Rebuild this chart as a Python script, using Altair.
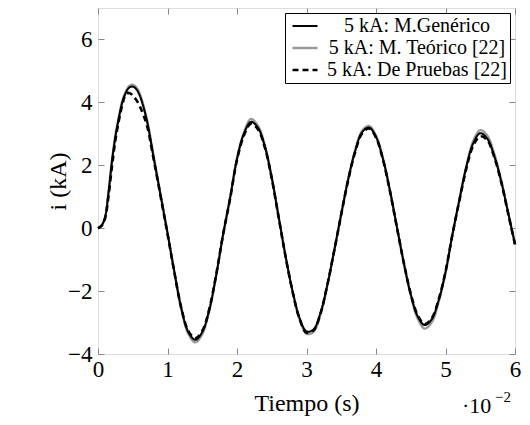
import altair as alt
import pandas as pd

# tiempo (x 10^-2 s)
t = [0, 0.05, 0.1, 0.15, 0.2, 0.25, 0.3, 0.35, 0.4, 0.45, 0.5, 0.55, 0.6,
     0.7, 0.8, 0.9, 1.0, 1.1, 1.2, 1.3, 1.4, 1.5, 1.6, 1.7, 1.8, 1.9, 2.0,
     2.1, 2.2, 2.3, 2.4, 2.5, 2.6, 2.7, 2.8, 2.9, 3.0,
     3.1, 3.2, 3.3, 3.4, 3.5, 3.6, 3.7, 3.8, 3.9, 4.0,
     4.1, 4.2, 4.3, 4.4, 4.5, 4.6, 4.7, 4.8, 4.9, 5.0,
     5.1, 5.2, 5.3, 5.4, 5.5, 5.6, 5.7, 5.8, 5.9, 6.0]

generico = [0, 0.08, 0.33, 1.1, 2.1, 2.9, 3.5, 4.0, 4.3, 4.47, 4.5, 4.42, 4.22,
            3.45, 2.25, 1.05, -0.15,
            -1.4, -2.55, -3.3, -3.55, -3.3, -2.6, -1.5, -0.2, 0.95, 2.2,
            3.0, 3.38, 3.2, 2.6, 1.6, 0.35, -0.9, -2.0, -2.85, -3.28,
            -3.22, -2.7, -1.8, -0.7, 0.45, 1.55, 2.45, 3.05, 3.2, 2.9,
            2.2, 1.2, 0.05, -1.1, -2.1, -2.8, -3.08, -2.9, -2.3, -1.4,
            -0.2, 0.9, 1.95, 2.7, 3.02, 2.85, 2.3, 1.5, 0.5, -0.5]

teorico = [0, 0.08, 0.35, 1.15, 2.15, 2.95, 3.55, 4.05, 4.35, 4.52, 4.56, 4.48, 4.28,
           3.5, 2.3, 1.08, -0.15,
           -1.42, -2.6, -3.36, -3.63, -3.37, -2.65, -1.52, -0.2, 0.97, 2.23,
           3.05, 3.47, 3.27, 2.65, 1.62, 0.35, -0.92, -2.03, -2.9, -3.36,
           -3.3, -2.76, -1.83, -0.7, 0.46, 1.57, 2.48, 3.1, 3.25, 2.95,
           2.23, 1.22, 0.05, -1.12, -2.14, -2.88, -3.19, -3.0, -2.36, -1.43,
           -0.2, 0.92, 1.98, 2.78, 3.12, 2.95, 2.38, 1.55, 0.52, -0.5]

pruebas = [0, 0.07, 0.3, 1.0, 1.95, 2.8, 3.42, 3.92, 4.25, 4.3, 4.22, 4.08, 3.88,
           3.3, 2.2, 1.02, -0.18,
           -1.42, -2.55, -3.27, -3.5, -3.27, -2.58, -1.48, -0.2, 0.93, 2.17,
           2.95, 3.32, 3.15, 2.57, 1.58, 0.33, -0.92, -2.02, -2.88, -3.32,
           -3.25, -2.72, -1.8, -0.7, 0.44, 1.53, 2.42, 3.01, 3.17, 2.88,
           2.18, 1.18, 0.03, -1.1, -2.08, -2.77, -3.05, -2.87, -2.28, -1.38,
           -0.2, 0.88, 1.9, 2.63, 2.92, 2.8, 2.27, 1.48, 0.48, -0.52]

series = ["5 kA: M.Genérico", "5 kA: M. Teórico [22]", "5 kA: De Pruebas [22]"]

rows = []
for name, vals in [(series[1], teorico), (series[0], generico), (series[2], pruebas)]:
    for tt, v in zip(t, vals):
        rows.append({"t": tt, "i": v, "serie": name})
df = pd.DataFrame(rows)

FONT = "Liberation Serif"

x_bottom = alt.Axis(values=[0, 1, 2, 3, 4, 5, 6], format="d", domain=False, grid=False,
                    tickSize=6, tickColor="#888888", tickWidth=1, offset=-6,
                    labelPadding=4, labelFont=FONT, labelFontSize=23, labelColor="black",
                    labelFlush=False, title="Tiempo (s)", titleFont=FONT, titleFontSize=24,
                    titleFontWeight="normal", titleColor="black", titlePadding=10)
y_left = alt.Axis(values=[-4, -2, 0, 2, 4, 6], format="d", domain=False, grid=False,
                  tickSize=6, tickColor="#888888", tickWidth=1, offset=-6,
                  labelPadding=6, labelFont=FONT, labelFontSize=23, labelColor="black",
                  labelFlush=False, title="i (kA)", titleFont=FONT, titleFontSize=24,
                  titleFontWeight="normal", titleColor="black", titlePadding=-3)

lines = alt.Chart(df).mark_line(interpolate="catmull-rom").encode(
    x=alt.X("t:Q", scale=alt.Scale(domain=[0, 6], nice=False, zero=False), axis=x_bottom),
    y=alt.Y("i:Q", scale=alt.Scale(domain=[-4, 7], nice=False), axis=y_left),
    color=alt.Color("serie:N",
                    scale=alt.Scale(domain=series, range=["#000000", "#9a9a9a", "#000000"]),
                    legend=alt.Legend(title=None, orient="top-right", offset=5,
                                      symbolType="M-2.5,0H2.5", symbolSize=100,
                                      symbolOffset=7,
                                      labelFont=FONT, labelFontSize=20, labelColor="black",
                                      labelAlign="center", labelBaseline="middle",
                                      labelOffset=102, labelLimit=400,
                                      strokeColor="black", fillColor="white",
                                      padding=3, rowPadding=2, titlePadding=0,
                                      cornerRadius=0)),
    strokeDash=alt.StrokeDash("serie:N",
                              scale=alt.Scale(domain=series, range=[[1, 0], [1, 0], [6, 4]]),
                              legend=alt.Legend(title=None)),
    strokeWidth=alt.StrokeWidth("serie:N",
                                scale=alt.Scale(domain=series, range=[2, 2.6, 2]),
                                legend=alt.Legend(title=None)),
)

frame_axes = alt.Chart(df).mark_point(opacity=0).encode(
    x=alt.X("t:Q", axis=alt.Axis(orient="top", values=[0, 1, 2, 3, 4, 5, 6], labels=False,
                                 domain=False, grid=False, tickSize=6, tickColor="#888888",
                                 offset=-6, title=None)),
    y=alt.Y("i:Q", axis=alt.Axis(orient="right", values=[-4, -2, 0, 2, 4, 6], labels=False,
                                 domain=False, grid=False, tickSize=6, tickColor="#888888",
                                 offset=-6, title=None)),
)

mult = alt.Chart(pd.DataFrame({"txt": ["·10"]})).mark_text(
    font=FONT, fontSize=22, align="left", baseline="alphabetic", color="black"
).encode(x=alt.value(364), y=alt.value(405), text="txt:N")
expo = alt.Chart(pd.DataFrame({"txt": ["−2"]})).mark_text(
    font=FONT, fontSize=15, align="left", baseline="alphabetic", color="black"
).encode(x=alt.value(397), y=alt.value(394), text="txt:N")

chart = alt.layer(lines, frame_axes, mult, expo).resolve_axis(
    x="independent", y="independent"
).properties(
    width=417, height=346,
    padding={"left": 90, "top": 0, "right": 7, "bottom": 63},
    autosize=alt.AutoSizeParams(type="none"),
).configure_view(stroke="black", strokeWidth=1).configure_axis(
    labelFont=FONT, titleFont=FONT
).configure_legend(labelFont=FONT).configure_text(font=FONT).configure(background="white")

chart.save("out.html", embed_options={"renderer": "svg", "actions": False})
